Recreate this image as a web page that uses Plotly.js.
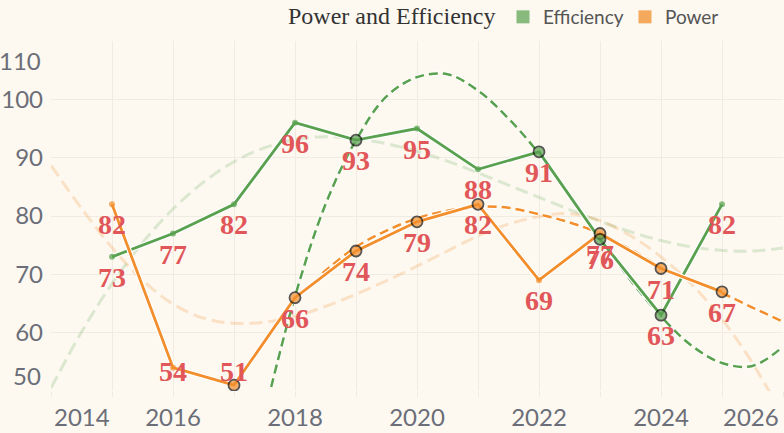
<!DOCTYPE html>
<html><head><meta charset="utf-8">
<script src="https://cdn.plot.ly/plotly-3.0.1.min.js"></script>
<style>html,body{margin:0;padding:0;background:#fdf9f1}</style>
</head><body><div id="chart" style="width:784px;height:433px"></div>
<script>
// ---- data ----
const years = [2015,2016,2017,2018,2019,2020,2021,2022,2023,2024,2025];
const efficiency = [73,77,82,96,93,95,88,91,76,63,82];
const power = [82,54,51,66,74,79,82,69,77,71,67];
const efficiencyHighlighted = [2019,2022,2023,2024];
const powerHighlighted = [2017,2018,2019,2020,2021,2023,2024,2025];

// dark dashed trend curves
const effFitYears = [2017.5,2018,2018.5,2019,2019.5,2020,2020.5,2021,2021.5,2022,2022.5,2023,2023.5,2024,2024.5,2025,2025.5,2026];
const effFitValues = [46,66.2,82,93,100.5,103.8,104.3,101.5,96.7,90.7,83.5,76.2,69,62.8,57.8,54.8,54.3,57.6];
const powFitYears = [2018.45,2019,2019.5,2020,2020.5,2021,2021.5,2022,2022.5,2023,2023.5,2024,2024.5,2025,2025.5,2026];
const powFitValues = [70.2,74.7,77.5,79.6,80.9,81.6,81.4,80.3,78.9,77.0,74.3,71.3,69.0,66.8,64.3,61.9];

// pale dashed trend curves
const trendYears = [2014,2014.5,2015,2015.5,2016,2016.5,2017,2017.5,2018,2018.5,2019,2019.5,2020,2020.5,2021,2021.5,2022,2022.5,2023,2023.5,2024,2024.5,2025,2025.5,2026];
const effTrendValues = [50.5,60.1,68.4,75.4,81.2,85.8,89.3,91.7,93.1,93.6,93.2,92.4,91.1,89.4,87.4,85.3,83.2,81.1,79.1,77.3,75.8,74.7,74.1,74.0,74.5];
const powTrendValues = [88.7,81.3,74.6,69.0,64.9,62.5,61.6,61.8,62.8,64.5,66.6,68.9,71.4,74.0,76.6,78.6,79.9,80.4,79.2,76.6,73.0,68.3,62.3,54.8,45.6];

const xTickYears = [2014,2016,2018,2020,2022,2024,2026];
const yTickValues = [50,60,70,80,90,100,110];
const seriesNames = ['Efficiency','Power'];
const titleText = 'Power and Efficiency';

// ---- styling ----
const GREEN = '#59a14f', ORANGE = '#f28e2b', RED = '#e15759';
const BG = '#fdf9f1', GRID = '#f0ece4';
const TICKFONT = {family:'Lato, "Open Sans", sans-serif', size:24, color:'#6b6e78'};
const SERIF = '"Liberation Serif", "Times New Roman", Times, serif';
const M = {l:51, r:1, t:41, b:42};
const W = 784, H = 433;
const yMin = 50, yMax = 110, xMin = 2014, xMax = 2026;
const pxPerUnit = (H - M.t - M.b) / (yMax - yMin);

function curve(x, y, color, width, dash, opacity) {
  return {x:x, y:y, mode:'lines', type:'scatter', hoverinfo:'skip', showlegend:false,
    opacity:opacity, line:{color:color, width:width, dash:dash, shape:'spline', smoothing:1}};
}
function markerTrace(vals, highlighted, color) {
  return {x:years, y:vals, mode:'markers', type:'scatter', showlegend:false, hoverinfo:'skip',
    marker:{color:color,
      size:years.map(y => highlighted.includes(y) ? 11 : 6),
      line:{color:'#111', width:years.map(y => highlighted.includes(y) ? 1.8 : 0)}}};
}

const traces = [
  curve(trendYears, effTrendValues, GREEN, 3, '13px,6px', 0.2),
  curve(trendYears, powTrendValues, ORANGE, 3, '13px,6px', 0.22),
  curve(effFitYears, effFitValues, '#ffffff', 4.5, '9px,5px', 0.9),
  curve(effFitYears, effFitValues, GREEN, 2.5, '9px,5px', 1),
  curve(powFitYears, powFitValues, '#ffffff', 4.5, '9px,5px', 0.9),
  curve(powFitYears, powFitValues, ORANGE, 2.5, '9px,5px', 1),
  {x:years, y:efficiency, mode:'lines', type:'scatter', showlegend:false, hoverinfo:'skip', line:{color:'#ffffff', width:5}},
  {x:years, y:efficiency, mode:'lines', type:'scatter', showlegend:false, hoverinfo:'skip', line:{color:GREEN, width:2.8}},
  {x:years, y:power, mode:'lines', type:'scatter', showlegend:false, hoverinfo:'skip', line:{color:'#ffffff', width:5}},
  {x:years, y:power, mode:'lines', type:'scatter', showlegend:false, hoverinfo:'skip', line:{color:ORANGE, width:2.8}},
  markerTrace(power, powerHighlighted, ORANGE),
  markerTrace(efficiency, efficiencyHighlighted, GREEN),
  {x:[null], y:[null], mode:'markers', type:'scatter', name:seriesNames[0],
    marker:{symbol:'square', size:13, color:'rgba(89,161,79,0.72)'}},
  {x:[null], y:[null], mode:'markers', type:'scatter', name:seriesNames[1],
    marker:{symbol:'square', size:13, color:'rgba(242,142,43,0.75)'}}
];

// value labels, placed below each point, kept inside the plot
const annotations = [];
function addLabels(vals) {
  vals.forEach((v, i) => {
    const below = 20.5;
    const room = (v - yMin) * pxPerUnit - 19.5;
    const shift = -Math.min(below, room);
    annotations.push({x:years[i], y:v, xref:'x', yref:'y', text:'<b>' + String(Math.round(v)) + '</b>',
      showarrow:false, xanchor:'center', yanchor:'middle', yshift:shift,
      font:{family:SERIF, size:28, color:RED}});
  });
}
addLabels(efficiency);
addLabels(power);

// flush first/last axis labels
annotations.push({x:xTickYears[0], y:0, xref:'x', yref:'paper', text:String(xTickYears[0]),
  showarrow:false, xanchor:'left', yanchor:'top', xshift:1, yshift:-9, font:TICKFONT});
annotations.push({x:xTickYears[xTickYears.length-1], y:0, xref:'x', yref:'paper', text:String(xTickYears[xTickYears.length-1]),
  showarrow:false, xanchor:'right', yanchor:'top', xshift:-2, yshift:-9, font:TICKFONT});
annotations.push({x:0, y:yTickValues[yTickValues.length-1], xref:'paper', yref:'y', text:String(yTickValues[yTickValues.length-1]),
  showarrow:false, xanchor:'right', yanchor:'middle', xshift:-8, yshift:-19, font:TICKFONT});
annotations.push({x:0, y:yTickValues[0], xref:'paper', yref:'y', text:String(yTickValues[0]),
  showarrow:false, xanchor:'right', yanchor:'middle', xshift:-8, yshift:16, font:TICKFONT});

const layout = {
  width:W, height:H, margin:M,
  paper_bgcolor:BG, plot_bgcolor:BG,
  title:{text:titleText, xref:'container', yref:'container', x:288/W, xanchor:'left', y:1-16/H, yanchor:'middle',
    font:{family:SERIF, size:24, color:'#333'}},
  legend:{orientation:'h', xref:'container', yref:'container', x:503/W, xanchor:'left', y:1-17/H, yanchor:'middle',
    entrywidth:77, entrywidthmode:'pixels',
    font:{family:'Lato, "Open Sans", sans-serif', size:19, color:'#555'}, bgcolor:'rgba(0,0,0,0)', itemclick:false},
  xaxis:{range:[xMin, xMax], tickvals:xTickYears, ticktext:xTickYears.map((y,i)=> (i===0||i===xTickYears.length-1)?'':String(y)),
    showgrid:true, gridcolor:GRID, gridwidth:1, zeroline:false, showline:false,
    ticks:'outside', ticklen:5, tickcolor:GRID, tickfont:TICKFONT,
    minor:{dtick:1, tick0:2014, showgrid:true, gridcolor:GRID, ticks:'outside', ticklen:5, tickcolor:GRID}},
  yaxis:{range:[yMin, yMax], tickvals:yTickValues, ticktext:yTickValues.map((v,i)=> (i===0||i===yTickValues.length-1)?'':String(v)),
    showgrid:true, gridcolor:GRID, gridwidth:1, zeroline:false, showline:false, ticks:'', tickfont:TICKFONT, ticklabelstandoff:7},
  annotations:annotations,
  showlegend:true
};

Plotly.newPlot('chart', traces, layout, {displayModeBar:false, staticPlot:true});
</script></body></html>
